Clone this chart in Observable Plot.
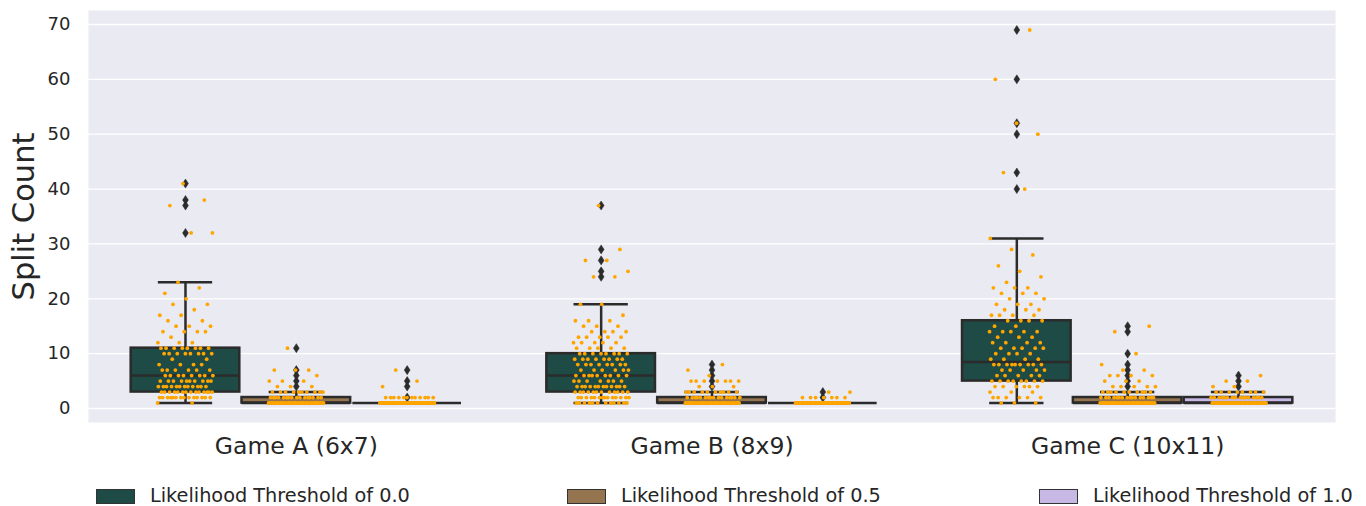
<!DOCTYPE html>
<html><head><meta charset="utf-8">
<script src="https://cdn.jsdelivr.net/npm/d3@7"></script>
<script src="https://cdn.jsdelivr.net/npm/@observablehq/plot@0.6"></script>
<style>
html,body{margin:0;padding:0;background:#fff;}
#chart{width:1366px;height:506px;position:relative;font-family:"DejaVu Sans",sans-serif;overflow:hidden;}
#legend{position:relative;width:1366px;height:36px;}
.item{position:absolute;top:0;height:36px;}
.sw{position:absolute;left:0;top:19px;width:37px;height:13px;border:1px solid #333;}
.lab{position:absolute;left:54px;top:15px;font-size:19.3px;line-height:22px;color:#262626;white-space:nowrap;}
</style></head><body><div id="chart"></div>
<script>
const games = ["Game A (6x7)", "Game B (8x9)", "Game C (10x11)"];
const thresholds = ["Likelihood Threshold of 0.0", "Likelihood Threshold of 0.5", "Likelihood Threshold of 1.0"];
const colors = ["#1e4b45", "#94754f", "#c8b8e6"];
const yTicks = [0, 10, 20, 30, 40, 50, 60, 70];

// box statistics, one entry per (game, threshold)
const boxGame = [0, 0, 0, 1, 1, 1, 2, 2, 2];
const boxHue = [0, 1, 2, 0, 1, 2, 0, 1, 2];
const q1 = [3, 1, 1, 3, 1, 1, 5, 1, 1];
const median = [6, 1, 1, 6, 1, 1, 8.5, 1, 1];
const q3 = [11, 2, 1, 10, 2, 1, 16, 2, 2];
const whiskerLow = [1, 1, 1, 1, 1, 1, 1, 1, 1];
const whiskerHigh = [23, 3, 1, 19, 3, 1, 31, 3, 3];
const outliers = [
  [32, 37, 38, 41], [4, 5, 6, 7, 11], [2, 4, 5, 7],
  [24, 25, 27, 29, 37], [4, 5, 6, 7, 8], [2, 3],
  [40, 43, 50, 52, 60, 69], [4, 5, 6, 7, 8, 10, 14, 15], [4, 5, 6]
];
// strip points: [value, count] per box
const stripCounts = [
  [[1,2],[2,14],[3,14],[4,12],[5,10],[6,8],[7,6],[8,4],[9,2],[10,8],[11,8],[12,3],[13,1],[14,4],[15,3],[16,2],[17,2],[18,1],[19,2],[20,1],[21,1],[22,1],[23,1],[32,2],[37,1],[38,1],[41,1]],
  [[1,40],[2,16],[3,10],[4,3],[5,3],[6,1],[7,3],[11,1]],
  [[1,50],[2,12],[4,1],[5,1],[7,1]],
  [[1,12],[2,14],[3,12],[4,12],[5,7],[6,9],[7,6],[8,8],[9,8],[10,8],[11,5],[12,5],[13,5],[14,4],[15,3],[16,3],[17,1],[19,2],[24,2],[25,1],[27,2],[29,1],[37,1]],
  [[1,40],[2,16],[3,10],[4,3],[5,7],[6,1],[7,1],[8,1]],
  [[1,45],[2,7],[3,2]],
  [[1,3],[2,6],[3,3],[4,6],[5,8],[6,5],[7,5],[8,9],[9,4],[10,4],[11,5],[12,4],[13,3],[14,5],[15,2],[16,4],[17,4],[18,3],[19,3],[20,2],[21,3],[22,3],[23,1],[24,1],[25,1],[26,1],[28,1],[29,1],[31,1],[40,1],[43,1],[50,1],[52,1],[60,1],[69,1]],
  [[1,40],[2,16],[3,10],[4,5],[5,3],[6,4],[7,2],[8,1],[10,1],[14,1],[15,1]],
  [[1,35],[2,16],[3,8],[4,2],[5,2],[6,1]]
];

const bw = 0.8 / 3;
const center = (g, h) => g + (h - 1) * bw;
const half = bw * 0.98 / 2;

const boxes = boxGame.map((g, i) => ({
  g, h: boxHue[i], c: center(g, boxHue[i]),
  q1: q1[i], med: median[i], q3: q3[i], lo: whiskerLow[i], hi: whiskerHigh[i]
}));
const outlierPts = [];
boxes.forEach((b, i) => outliers[i].forEach(v => outlierPts.push({x: b.c, y: v})));
const stripPts = [];
boxes.forEach((b, i) => {
  let k = 0;
  stripCounts[i].forEach(([v, n]) => {
    for (let j = 0; j < n; j++, k++) {
      const jit = (((k * 0.6180339887) + 0.37 * i) % 1) * 2 - 1;
      stripPts.push({x: b.c + jit * 0.067, y: v});
    }
  });
});

const thinDiamond = {
  draw(context, size) {
    const s = Math.sqrt(size), h = 0.85 * s, w = 0.55 * s;
    context.moveTo(0, -h); context.lineTo(w, 0); context.lineTo(0, h); context.lineTo(-w, 0); context.closePath();
  }
};
const ink = "#2b2b2b";

const plot = Plot.plot({
  width: 1366, height: 470,
  marginLeft: 88, marginRight: 31, marginTop: 10, marginBottom: 48,
  style: {fontFamily: "DejaVu Sans", color: "#262626", background: "white", overflow: "visible"},
  x: {domain: [-0.5, 2.5]},
  y: {domain: [-2.55, 72.55]},
  marks: [
    Plot.frame({fill: "#eaeaf2", stroke: null}),
    Plot.gridY({ticks: yTicks, stroke: "white", strokeOpacity: 1, strokeWidth: 1.3}),
    Plot.axisY({ticks: yTicks, tickSize: 0, tickPadding: 18, fontSize: 18, label: null}),
    Plot.axisX({ticks: [0, 1, 2], tickFormat: i => games[i], tickSize: 0, tickPadding: 15, fontSize: 23.5, label: null}),
    Plot.text(["Split Count"], {frameAnchor: "left", textAnchor: "middle", rotate: -90, dx: -64, fontSize: 30.5, fill: "#262626"}),
    Plot.ruleX(boxes, {x: "c", y1: "lo", y2: "hi", stroke: ink, strokeWidth: 2.5}),
    Plot.ruleY(boxes, {y: "hi", x1: d => d.c - half / 2, x2: d => d.c + half / 2, stroke: ink, strokeWidth: 2.5}),
    Plot.ruleY(boxes, {y: "lo", x1: d => d.c - half / 2, x2: d => d.c + half / 2, stroke: ink, strokeWidth: 2.5}),
    Plot.rect(boxes, {x1: d => d.c - half, x2: d => d.c + half, y1: "q1", y2: "q3", fill: d => colors[d.h], stroke: ink, strokeWidth: 2.5}),
    Plot.ruleY(boxes, {y: "med", x1: d => d.c - half, x2: d => d.c + half, stroke: ink, strokeWidth: 2.5}),
    Plot.dot(outlierPts, {x: "x", y: "y", symbol: thinDiamond, r: 3, fill: ink, stroke: ink, strokeWidth: 0.5}),
    Plot.dot(stripPts, {x: "x", y: "y", r: 1.9, fill: "orange", stroke: null})
  ]
});
const chart = document.getElementById("chart");
chart.appendChild(plot);

const legend = document.createElement("div");
legend.id = "legend";
const lefts = [96, 567, 1039];
thresholds.forEach((t, i) => {
  const item = document.createElement("div");
  item.className = "item";
  item.style.left = lefts[i] + "px";
  const sw = document.createElement("div");
  sw.className = "sw";
  sw.style.background = colors[i];
  const lab = document.createElement("div");
  lab.className = "lab";
  lab.textContent = t;
  item.appendChild(sw); item.appendChild(lab);
  legend.appendChild(item);
});
chart.appendChild(legend);
</script></body></html>
